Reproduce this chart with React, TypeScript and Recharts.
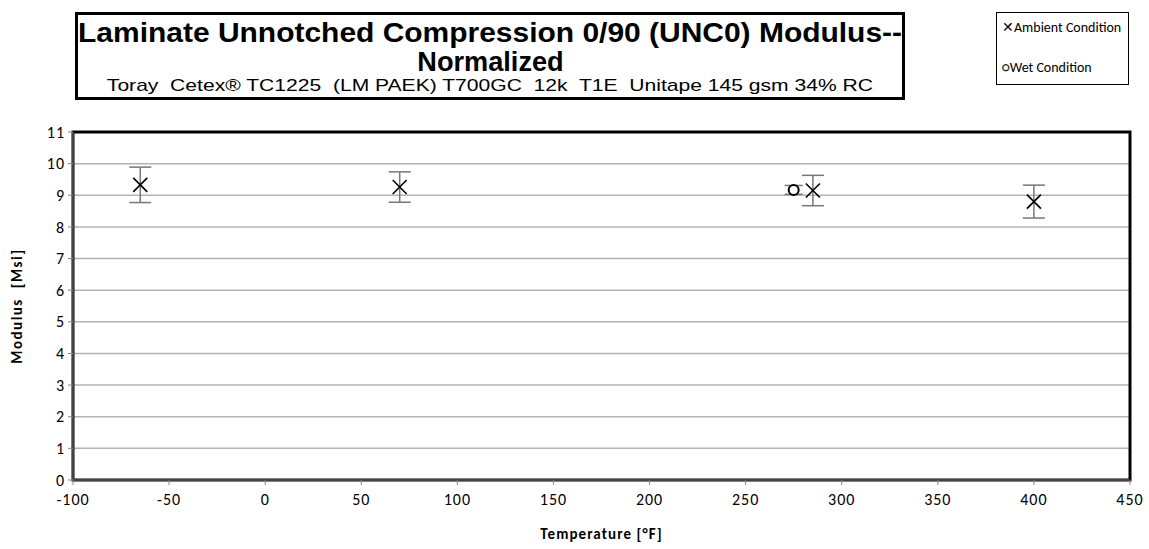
import {
  ScatterChart,
  Scatter,
  XAxis,
  YAxis,
  CartesianGrid,
  ErrorBar,
  ReferenceArea,
} from "recharts";

const TEMPS_AMBIENT = [-65, 70, 285, 400];
const MODULUS_AMBIENT = [9.33, 9.26, 9.15, 8.8];
const ERR_AMBIENT = [0.56, 0.48, 0.48, 0.52];

const TEMPS_WET = [275];
const MODULUS_WET = [9.17];
const ERR_WET = [0.14];

const X_TICKS = [-100, -50, 0, 50, 100, 150, 200, 250, 300, 350, 400, 450];
const Y_TICKS = [0, 1, 2, 3, 4, 5, 6, 7, 8, 9, 10, 11];

const ambient = TEMPS_AMBIENT.map((t, i) => ({
  temp: t,
  modulus: MODULUS_AMBIENT[i],
  err: ERR_AMBIENT[i],
}));
const wet = TEMPS_WET.map((t, i) => ({
  temp: t,
  modulus: MODULUS_WET[i],
  err: ERR_WET[i],
}));

const FONT_LABEL = "Carlito, 'Open Sans', 'Liberation Sans', sans-serif";
const FONT_TITLE = "'Liberation Sans', Arial, sans-serif";

function CrossMark(props: any) {
  const { cx, cy } = props;
  const s = 7;
  return (
    <g stroke="#000" strokeWidth={1.6}>
      <line x1={cx - s} y1={cy - s} x2={cx + s} y2={cy + s} />
      <line x1={cx - s} y1={cy + s} x2={cx + s} y2={cy - s} />
    </g>
  );
}

function CircleMark(props: any) {
  const { cx, cy } = props;
  return <circle cx={cx} cy={cy} r={5} fill="#fff" stroke="#000" strokeWidth={2} />;
}

// stretch a line of text horizontally (the original uses a narrow font)
function Stretch({ s, children }: { s: number; children: any }) {
  return (
    <span style={{ display: "inline-block", transform: `scaleX(${s})`, transformOrigin: "center", whiteSpace: "pre" }}>
      {children}
    </span>
  );
}

export default function App() {
  return (
    <div
      style={{
        position: "absolute",
        left: 0,
        top: 0,
        width: 1149,
        height: 549,
        background: "#fff",
        fontFamily: FONT_LABEL,
      }}
    >
      <ScatterChart
        width={1149}
        height={549}
        margin={{ top: 132, right: 19, left: 0, bottom: 0 }}
      >
        <CartesianGrid vertical={false} stroke="#b3b3b3" strokeWidth={1.5} />
        <XAxis
          type="number"
          dataKey="temp"
          domain={[-100, 450]}
          ticks={X_TICKS}
          height={69}
          stroke="#868686"
          tickSize={5}
          tick={{ fill: "#000", fontSize: 16, fontFamily: FONT_LABEL, letterSpacing: 1 }}
          tickMargin={9}
          label={{
            value: "Temperature [°F]",
            position: "insideBottom",
            offset: 10,
            fill: "#000",
            fontSize: 15,
            fontWeight: "bold",
            fontFamily: FONT_LABEL,
            style: { fontSize: 15, fontWeight: 700, letterSpacing: 1.1 },
          }}
        />
        <YAxis
          type="number"
          dataKey="modulus"
          domain={[0, 11]}
          ticks={Y_TICKS}
          width={73}
          stroke="#868686"
          tickSize={5}
          tick={{ fill: "#000", fontSize: 16, fontFamily: FONT_LABEL, letterSpacing: 1 }}
          tickMargin={3}
          label={{
            value: "Modulus\u00A0\u00A0[Msi]",
            angle: -90,
            position: "insideLeft",
            offset: 17,
            fill: "#000",
            fontSize: 15,
            fontWeight: "bold",
            fontFamily: FONT_LABEL,
            style: { textAnchor: "middle", fontSize: 15, fontWeight: 700, letterSpacing: 1.5 },
          }}
        />
        <ReferenceArea
          x1={-100}
          x2={450}
          y1={0}
          y2={11}
          fill="none"
          stroke="#000"
          strokeWidth={3}
          ifOverflow="visible"
        />
        <Scatter
          name="Ambient Condition"
          data={ambient}
          shape={<CrossMark />}
          isAnimationActive={false}
        >
          <ErrorBar
            dataKey="err"
            direction="y"
            width={11}
            stroke="#777"
            strokeWidth={1.5}
            isAnimationActive={false}
          />
        </Scatter>
        <Scatter
          name="Wet Condition"
          data={wet}
          shape={<CircleMark />}
          isAnimationActive={false}
        >
          <ErrorBar
            dataKey="err"
            direction="y"
            width={9}
            stroke="#777"
            strokeWidth={1.5}
            isAnimationActive={false}
          />
        </Scatter>
      </ScatterChart>

      <div
        style={{
          position: "absolute",
          left: 75,
          top: 12,
          width: 824,
          height: 82,
          border: "3px solid #000",
          background: "#fff",
          textAlign: "center",
          fontFamily: FONT_TITLE,
          color: "#000",
        }}
      >
        <div style={{ fontSize: 28, fontWeight: "bold", lineHeight: "29px", marginTop: 3 }}>
          <Stretch s={1.07}>Laminate Unnotched Compression 0/90 (UNC0) Modulus--</Stretch>
        </div>
        <div style={{ fontSize: 28, fontWeight: "bold", lineHeight: "29px" }}>
          <Stretch s={0.97}>Normalized</Stretch>
        </div>
        <div style={{ fontSize: 17, lineHeight: "20px" }}>
          <Stretch s={1.24}>Toray  Cetex® TC1225  (LM PAEK) T700GC  12k  T1E  Unitape 145 gsm 34% RC</Stretch>
        </div>
      </div>

      <div
        style={{
          position: "absolute",
          left: 996,
          top: 12,
          width: 131,
          height: 71,
          border: "1.5px solid #000",
          background: "#fff",
          fontFamily: FONT_LABEL,
          fontSize: 14,
          color: "#000",
        }}
      >
        <div style={{ position: "absolute", left: 5, top: 6, whiteSpace: "nowrap" }}>
          ✕Ambient Condition
        </div>
        <div style={{ position: "absolute", left: 5, top: 46, whiteSpace: "nowrap" }}>
          ○Wet Condition
        </div>
      </div>
    </div>
  );
}
